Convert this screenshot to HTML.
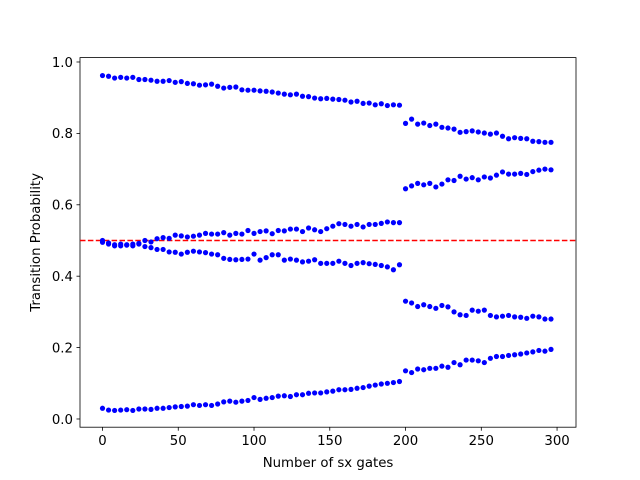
<!DOCTYPE html>
<html><head><meta charset="utf-8"><style>body{margin:0;background:#fff}svg{display:block;font-family:"DejaVu Sans","Liberation Sans",sans-serif}</style></head>
<body>
<svg id="chart" width="640" height="480"></svg>
<script>
const xStart=0, xStep=4;
const seriesA=[0.962,0.960,0.955,0.957,0.955,0.957,0.951,0.951,0.949,0.946,0.946,0.948,0.943,0.945,0.940,0.939,0.935,0.936,0.938,0.932,0.927,0.929,0.930,0.922,0.921,0.921,0.919,0.918,0.916,0.913,0.910,0.908,0.910,0.904,0.903,0.899,0.897,0.898,0.896,0.895,0.893,0.888,0.890,0.884,0.885,0.880,0.883,0.878,0.880,0.879,
0.828,0.840,0.826,0.829,0.822,0.826,0.817,0.815,0.812,0.803,0.805,0.807,0.804,0.801,0.798,0.801,0.792,0.785,0.788,0.786,0.785,0.778,0.777,0.775,0.775];
const seriesB=[0.495,0.493,0.488,0.485,0.487,0.490,0.492,0.500,0.496,0.505,0.508,0.506,0.515,0.513,0.510,0.512,0.515,0.520,0.518,0.518,0.522,0.515,0.520,0.518,0.528,0.520,0.525,0.527,0.519,0.528,0.527,0.532,0.532,0.525,0.535,0.530,0.525,0.533,0.540,0.547,0.545,0.540,0.545,0.538,0.545,0.545,0.548,0.552,0.550,0.550,
0.645,0.653,0.660,0.656,0.660,0.650,0.658,0.670,0.668,0.680,0.672,0.676,0.670,0.678,0.675,0.683,0.692,0.686,0.686,0.688,0.685,0.693,0.697,0.700,0.698];
const seriesC=[0.500,0.490,0.485,0.490,0.488,0.485,0.490,0.483,0.480,0.475,0.475,0.468,0.467,0.462,0.467,0.470,0.468,0.466,0.462,0.460,0.450,0.447,0.446,0.447,0.448,0.462,0.445,0.452,0.460,0.460,0.445,0.448,0.445,0.440,0.442,0.446,0.436,0.436,0.436,0.442,0.436,0.430,0.436,0.438,0.435,0.433,0.430,0.426,0.418,0.432,
0.330,0.325,0.315,0.320,0.315,0.310,0.318,0.314,0.300,0.292,0.290,0.305,0.302,0.305,0.290,0.286,0.288,0.290,0.286,0.285,0.282,0.288,0.286,0.280,0.280];
const seriesD=[0.030,0.025,0.024,0.025,0.026,0.024,0.028,0.028,0.027,0.030,0.030,0.032,0.034,0.035,0.036,0.040,0.038,0.040,0.038,0.042,0.048,0.050,0.047,0.050,0.052,0.060,0.055,0.058,0.060,0.064,0.065,0.063,0.068,0.068,0.072,0.073,0.073,0.076,0.078,0.082,0.082,0.083,0.086,0.088,0.092,0.095,0.098,0.100,0.102,0.105,
0.135,0.130,0.140,0.138,0.142,0.142,0.148,0.145,0.158,0.152,0.165,0.165,0.163,0.158,0.170,0.175,0.175,0.178,0.180,0.182,0.185,0.188,0.192,0.190,0.195];
const xTicks=[0,50,100,150,200,250,300];
const yTicks=[0.0,0.2,0.4,0.6,0.8,1.0];
const refLine=0.5;

const L=80,R=576,T=57.6,B=427.2;
const xMin=-14.85,xMax=312.5,yMin=-0.023,yMax=1.0123;
const X=v=>L+(v-xMin)/(xMax-xMin)*(R-L);
const Y=v=>B-(v-yMin)/(yMax-yMin)*(B-T);
const svg=document.getElementById('chart');
const NS='http://www.w3.org/2000/svg';
function mk(tag,attrs,parent){const e=document.createElementNS(NS,tag);for(const k in attrs)e.setAttribute(k,attrs[k]);(parent||svg).appendChild(e);return e;}

const frame=mk('rect',{x:L,y:T,width:R-L,height:B-T,fill:'none',stroke:'#000','stroke-width':0.8});



xTicks.forEach(t=>{
  const ln=mk('line',{x1:X(t),x2:X(t),y1:B,y2:B+3.5,stroke:'#000','stroke-width':0.8});
  
  
  const tx=mk('text',{x:X(t),y:B+18,'text-anchor':'middle','font-size':13.3});
  tx.textContent=t;
  
  
});
yTicks.forEach(t=>{
  const ln=mk('line',{x1:L-3.5,x2:L,y1:Y(t),y2:Y(t),stroke:'#000','stroke-width':0.8});
  
  
  const tx=mk('text',{x:L-7,y:Y(t)+4.8,'text-anchor':'end','font-size':13.3});
  tx.textContent=t.toFixed(1);
  
  
});

const xl=mk('text',{x:(L+R)/2,y:467,'text-anchor':'middle','font-size':13.3});
xl.textContent='Number of sx gates';


const yl=mk('text',{x:0,y:0,'text-anchor':'middle','font-size':13.3,transform:`translate(40,${(T+B)/2}) rotate(-90)`});
yl.textContent='Transition Probability';



const ref=mk('line',{x1:L,x2:R,y1:Y(refLine),y2:Y(refLine),stroke:'red','stroke-width':1.5,'stroke-dasharray':'5.5,2.4'});



[seriesA,seriesB,seriesC,seriesD].forEach((s,si)=>{
  const g=mk('g',{});
  
  
  s.forEach((v,i)=>{
    const c=mk('circle',{cx:X(xStart+i*xStep),cy:Y(v),r:2.6,fill:'blue'},g);
    
    
  });
});
</script>
</body></html>
